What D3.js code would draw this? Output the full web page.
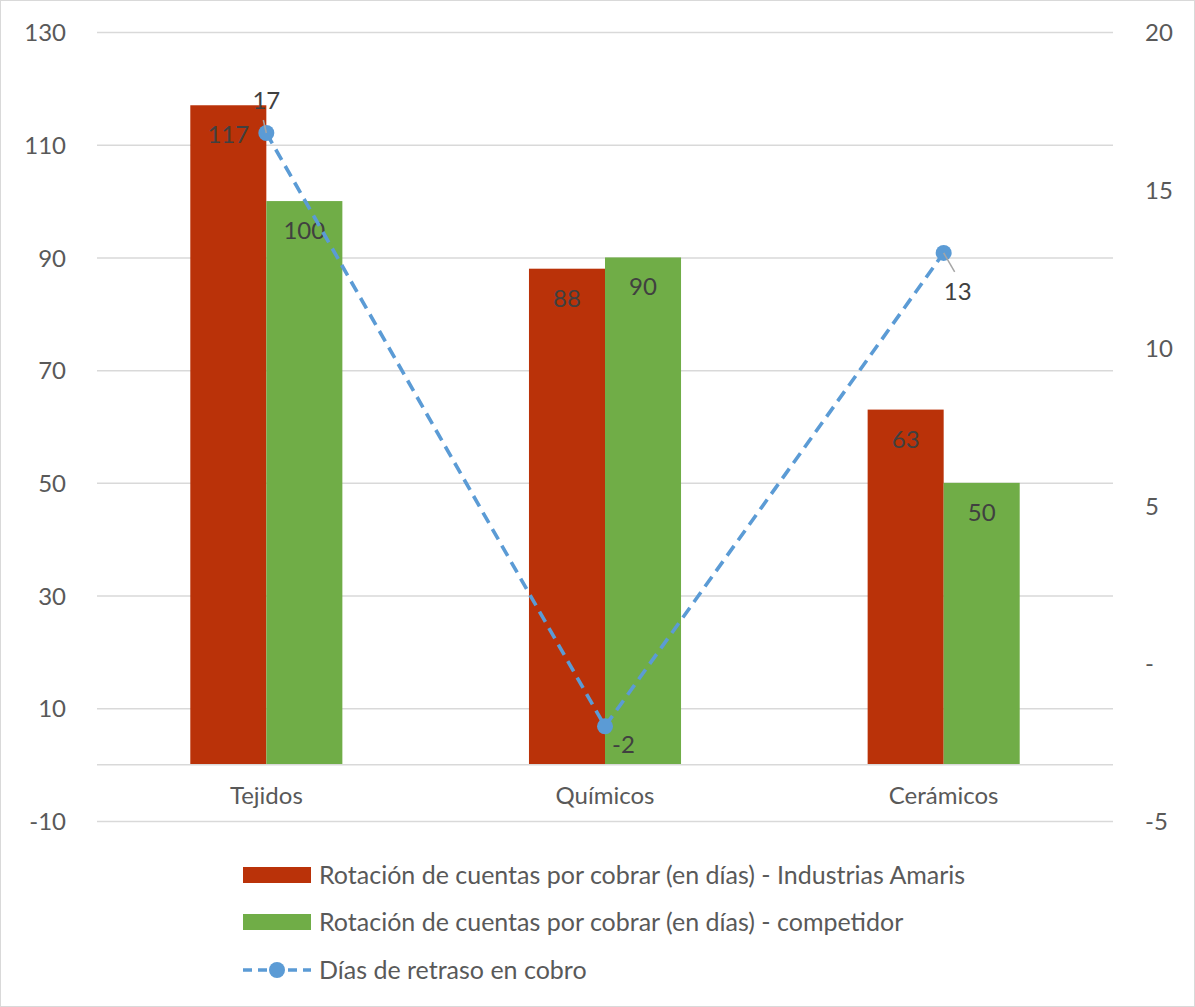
<!DOCTYPE html>
<html>
<head>
<meta charset="utf-8">
<script src="https://cdn.jsdelivr.net/npm/d3@7"></script>
<style>
  html, body { margin: 0; padding: 0; background: #fff; }
  svg { display: block; }
  text { font-family: Lato, "Open Sans", sans-serif; }
</style>
</head>
<body>
<div id="chart"></div>
<script>
// Categories and series
const categories = ["Tejidos", "Químicos", "Cerámicos"];
const seriesNames = [
  "Rotación de cuentas por cobrar (en días) - Industrias Amaris",
  "Rotación de cuentas por cobrar (en días) - competidor",
  "Días de retraso en cobro"
];
const amaris = [117, 88, 63];
const competidor = [100, 90, 50];
const retraso = [16.8, -2, 13];

// Axis ticks
const leftTicks = [-10, 10, 30, 50, 70, 90, 110, 130];
const rightTicks = [-5, 0, 5, 10, 15, 20];
const rightTickLabels = ["-5", "-", "5", "10", "15", "20"];

const W = 1195, H = 1007;
const colors = { amaris: "#BA3209", competidor: "#70AD47", line: "#5B9BD5" };
const textColor = "#595959", labelColor = "#404040", gridColor = "#D9D9D9";
const fontSize = 24;
const legendFontSize = 25;

const plot = { left: 97, right: 1113, top: 32, bottom: 821 };

// Plain hyphen for negatives
const locale = d3.formatLocale({ decimal: ".", thousands: ",", grouping: [3], currency: ["", ""], minus: "-" });
const fmt = locale.format(".0f");

const svg = d3.select("#chart").append("svg")
  .attr("width", W).attr("height", H);

// Chart frame
svg.append("rect")
  .attr("x", 0.5).attr("y", 0.5).attr("width", W - 1).attr("height", H - 1)
  .attr("fill", "#fff").attr("stroke", gridColor).attr("stroke-width", 1);

const yL = d3.scaleLinear().domain([-10, 130]).range([plot.bottom, plot.top]);
const yR = d3.scaleLinear().domain([-5, 20]).range([plot.bottom, plot.top]);
const x0 = d3.scaleBand().domain(categories).range([plot.left, plot.right]);
const bw = x0.bandwidth();
const groupW = bw * 0.449;
const x1 = d3.scaleBand().domain(["amaris", "competidor"])
  .range([bw / 2 - groupW / 2, bw / 2 + groupW / 2]);

// Gridlines from the left axis ticks
const gridAxis = d3.axisLeft(yL).tickValues(leftTicks)
  .tickSize(-(plot.right - plot.left)).tickFormat(() => "");
const gg = svg.append("g").attr("transform", `translate(${plot.left},0)`).call(gridAxis);
gg.select(".domain").remove();
gg.selectAll(".tick line").attr("stroke", gridColor).attr("stroke-width", 1.5);

// Left axis labels
const leftAxis = d3.axisLeft(yL).tickValues(leftTicks).tickSize(0).tickPadding(0)
  .tickFormat(fmt);
const lg = svg.append("g").attr("transform", "translate(66,0)").call(leftAxis);
lg.select(".domain").remove();
lg.selectAll("text").attr("fill", textColor).attr("font-size", fontSize)
  .attr("font-family", "Lato, sans-serif").attr("text-anchor", "end").attr("dy", "0.36em");

// Right axis labels
const rightAxis = d3.axisRight(yR).tickValues(rightTicks).tickSize(0).tickPadding(0)
  .tickFormat((d, i) => rightTickLabels[i]);
const rg = svg.append("g").attr("transform", "translate(1145,0)").call(rightAxis);
rg.select(".domain").remove();
rg.selectAll("text").attr("fill", textColor).attr("font-size", fontSize)
  .attr("font-family", "Lato, sans-serif").attr("text-anchor", "start").attr("dy", "0.36em");

// Bars
const barData = [];
categories.forEach((c, i) => {
  barData.push({ cat: c, key: "amaris", value: amaris[i] });
  barData.push({ cat: c, key: "competidor", value: competidor[i] });
});

svg.append("g").selectAll("rect").data(barData).join("rect")
  .attr("x", d => x0(d.cat) + x1(d.key))
  .attr("width", x1.bandwidth())
  .attr("y", d => yL(Math.max(0, d.value)))
  .attr("height", d => Math.abs(yL(d.value) - yL(0)))
  .attr("fill", d => colors[d.key]);

// Category axis line at zero
const xAxis = d3.axisBottom(x0).tickSize(0).tickPadding(0);
const xg = svg.append("g").attr("transform", `translate(0,${yL(0)})`).call(xAxis);
xg.select(".domain").attr("stroke", gridColor).attr("stroke-width", 1.5)
  .attr("d", `M${plot.left},0H${plot.right}`);
xg.selectAll("text").attr("fill", textColor).attr("font-size", fontSize)
  .attr("font-family", "Lato, sans-serif").attr("dy", null).attr("y", 39);

// Bar value labels (inside end)
svg.append("g").selectAll("text").data(barData).join("text")
  .attr("x", d => x0(d.cat) + x1(d.key) + x1.bandwidth() / 2)
  .attr("y", d => yL(d.value) + 38)
  .attr("text-anchor", "middle")
  .attr("font-size", fontSize).attr("fill", labelColor)
  .text(d => fmt(d.value));

// Delay line (right axis)
const lineData = categories.map((c, i) => ({ cat: c, value: retraso[i] }));
const cx = d => x0(d.cat) + bw / 2;
const line = d3.line().x(cx).y(d => yR(d.value));
svg.append("path").datum(lineData)
  .attr("d", line).attr("fill", "none")
  .attr("stroke", colors.line).attr("stroke-width", 3.6)
  .attr("stroke-dasharray", "12,7");

svg.append("g").selectAll("circle").data(lineData).join("circle")
  .attr("cx", cx).attr("cy", d => yR(d.value)).attr("r", 8)
  .attr("fill", colors.line);

// Line value labels with leader lines
const lineLabelPos = [
  { dx: 0, dy: -24, anchor: "middle", leader: [[-3, -13], [0, 0]] },
  { dx: 7, dy: 27, anchor: "start", leader: null },
  { dx: 14, dy: 47, anchor: "middle", leader: [[11, 19], [0, 0]] }
];
lineData.forEach((d, i) => {
  const p = lineLabelPos[i];
  const px = cx(d), py = yR(d.value);
  if (p.leader) {
    svg.append("line")
      .attr("x1", px + p.leader[0][0]).attr("y1", py + p.leader[0][1])
      .attr("x2", px + p.leader[1][0]).attr("y2", py + p.leader[1][1])
      .attr("stroke", "#A6A6A6").attr("stroke-width", 1.5);
  }
  svg.append("text")
    .attr("x", px + p.dx).attr("y", py + p.dy)
    .attr("text-anchor", p.anchor)
    .attr("font-size", fontSize).attr("fill", labelColor)
    .text(fmt(d.value));
});

// Legend
const legendRows = [875, 922, 970];
const lgd = svg.append("g");
[colors.amaris, colors.competidor].forEach((c, i) => {
  lgd.append("rect").attr("x", 243).attr("y", legendRows[i] - 8)
    .attr("width", 68).attr("height", 16).attr("fill", c);
});
lgd.append("line").attr("x1", 243).attr("x2", 311)
  .attr("y1", legendRows[2]).attr("y2", legendRows[2])
  .attr("stroke", colors.line).attr("stroke-width", 3.6)
  .attr("stroke-dasharray", "9,6");
lgd.append("circle").attr("cx", 277).attr("cy", legendRows[2]).attr("r", 8)
  .attr("fill", colors.line);
seriesNames.forEach((n, i) => {
  lgd.append("text").attr("x", 319).attr("y", legendRows[i])
    .attr("dy", "0.36em").attr("font-size", legendFontSize).attr("fill", textColor)
    .text(n);
});
</script>
</body>
</html>
